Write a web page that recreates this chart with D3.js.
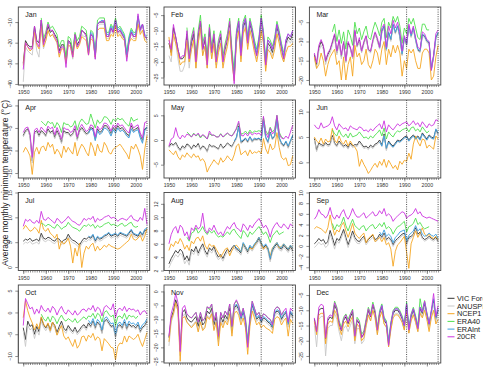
<!DOCTYPE html>
<html><head><meta charset="utf-8">
<script src="https://cdn.jsdelivr.net/npm/d3@7/dist/d3.min.js"></script>
<style>body{margin:0;background:#fff}svg{display:block}text{font-family:'Liberation Sans',Arial,sans-serif}</style>
</head><body><svg id="c" width="487" height="368"></svg>
<script>
const months = ["Jan","Feb","Mar","Apr","May","Jun","Jul","Aug","Sep","Oct","Nov","Dec"];
const seriesNames = ["VIC Forcing","ANUSPLIN","NCEP1","ERA40","ERAInt","20CR"];
const seriesStart = [1950,1950,1950,1958,1979,1950];
const xTicks = [1950,1960,1970,1980,1990,2000];
const refYears = [1991,2005];
const yTicks = [[-40,-30,-20,-10],[-25,-20,-15,-10,-5],[-20,-15,-10,-5],[-15,-10,-5,0],[-5,0,5],[0,5,10],[0,5,10,15],[2,4,6,8,10,12],[-4,-2,0,2,4,6,8,10],[-10,-5,0,5],[-25,-20,-15,-10,-5,0],[-25,-20,-15,-10,-5]];
const yDomains = [[-40.5,-2.7],[-27.4,-2.4],[-21.3,-1.05],[-16.1,1.2],[-7.7,8.1],[-3.1,12.3],[-0.7,15],[2,13.7],[-4.6,10],[-11.6,6.3],[-25.6,2.3],[-27.3,-1.7]];

const vic = [
[-30,-19,-21,-22,-22,-12,-19,-20,-9,-20,-17,-12,-15,-14,-16,-18,-24,-21,-21,-29,-19,-20,-26,-16,-21,-19,-14,-15,-16,-25,-16,-17,-27,-11,-10,-10,-10,-17,-17,-13,-15,-9,-15,-14,-16,-18,-27,-19,-15,-17,-17,-8,-14,-11,-17,-18],
[-14,-17,-9,-12,-16,-19,-19,-18,-11,-19,-14,-11,-20,-12,-7,-16,-13,-20,-10,-17,-12,-20,-15,-12,-20,-16,-13,-8,-18,-25,-12,-8,-18,-9,-7,-14,-8,-11,-15,-18,-14,-7,-12,-21,-14,-15,-17,-14,-9,-12,-16,-19,-14,-12,-13,-11],
[-13.4,-16,-11.7,-10,-11.3,-15.2,-13.4,-12.2,-10.4,-8.3,-13,-10,-13.9,-10.4,-15.2,-10.4,-11.7,-14.3,-7.4,-11.3,-9.6,-12.6,-10.4,-8.7,-12.2,-12.6,-10,-7.8,-9.6,-11.7,-7.4,-6.1,-12.2,-7.8,-9.6,-5.7,-7.8,-6.1,-8.7,-13.4,-9.1,-10.9,-6.1,-8.7,-6.6,-9.6,-12.2,-12.6,-8.3,-8.7,-10,-10.4,-17.3,-13.9,-9.1,-7.8],
[-6.7,-5.6,-5.2,-6.7,-12.3,-6,-5.6,-6.7,-5.6,-6,-6.7,-5.2,-6,-5.6,-7.1,-5.6,-6.7,-8.2,-5.6,-6,-6,-6.7,-6.3,-5.2,-7.5,-5.6,-4.9,-5.6,-6.3,-6,-4.9,-5.2,-7.5,-5.2,-6,-5.6,-4.5,-4.5,-5.2,-6.3,-4.9,-5.6,-4.5,-5.2,-4.9,-5.6,-6.3,-6.7,-4.5,-5.6,-5.2,-4.9,-6.7,-7.8,-5.2,-4.9],
[-1.4,-0.7,-1,-0.5,-1.4,-2,-1.2,-1.6,-0.8,-1.1,-1.8,-1,-1.4,-0.7,-1.9,-1.2,-1.5,-2.3,-0.9,-1.3,-1.2,-1.5,-1.8,-0.8,-1.6,-1.2,-0.6,-1,-1.3,-0.4,0.4,2.8,-0.5,-0.2,0.3,-0.4,0.6,-0.3,0.2,0.1,0.3,-0.2,4.2,0.5,-0.5,1.6,0.2,0.8,4.5,0.4,-0.8,-1.2,-0.4,-1.5,-0.3,0.8],
[4.7,2.4,3.8,3.5,3.3,3.9,3.4,3.6,5.3,3.8,3.3,4.2,3.6,3.2,3.5,2.9,3.8,3.2,3.5,3.4,4.2,3.6,3,3.2,2.8,3.4,3,3.6,3.8,4.4,3.4,5.6,2.6,4.2,3.6,3.2,3.8,4.4,4.2,4.6,5,5.2,4.4,5,5.4,4.8,5.2,4.6,5.8,5.2,4.6,5.4,5,4.8,6.4,5.6],
[5.2,5.6,5.4,5.8,5.2,5.4,5.6,5.2,6.8,5.8,5.6,6,5.8,5.4,5.2,5.8,5.6,5,5.4,5.6,6.6,5.8,5.4,5.2,4.8,4.4,5.2,5.8,5.6,6,5.8,6.4,5.2,6,5.6,5.8,6.2,6.4,6.8,6.2,6.4,6.6,6.2,6.8,6.6,6.4,6.2,6.8,7.4,6.6,6.4,6.2,7,6.4,7.4,7.4],
[3,3.8,4.4,5,4.6,5.2,4.8,3.6,4.2,3.4,5.2,4.8,5.6,4.6,5.4,6,5,4.4,5.4,5,5.6,4.6,4,4.4,3.8,4.6,5.2,4.8,5.4,5.8,5.2,5,4.6,6,5.4,4.8,5.6,5.2,5.8,6.2,6.8,6,5.4,5.8,5.2,3.6,5,5.6,6,5.4,5.2,5.8,5.4,5,5.6,5],
[0.4,0.8,1.4,0.9,1.2,0.4,0.8,2.9,1.6,0.1,1.4,1,2,3.1,1.6,0.2,1.4,2.8,1.6,1,0.8,1.4,1.8,0.6,1.2,1.6,2,1.2,1.4,2.2,1.6,2.4,1.2,1.6,1.2,0.2,1,1.4,1.8,2.2,2.4,0.4,1.6,1.8,2.2,3.4,2.2,2.6,1.6,1.2,1.4,1.8,1.4,1.2,1.6,0.9],
[-3.5,-6.2,-2,-3.2,-2.8,-5,-3.2,-4.4,-1.2,-2.8,-3.6,-2.6,-4,-2.2,-3,-4.6,-3.2,-2,-3.6,-4.2,-3,-3.8,-4.4,-3.4,-4.6,-4,-3.2,-2.8,-3.6,-2.4,-3.2,-2,-3.6,-2.2,-2.8,-4.6,-2,-1.6,-2.4,-3.2,-3,-5.6,-3.2,-2.8,-3.6,-2.2,-3.8,-2.6,-3.2,-3,-3.6,-2.8,-4.4,-3.4,-3,-2],
[-16.5,-9.5,-7,-3,-5.5,-21,-7.5,-6.5,-9.5,-10.5,-11,-10,-9,-12.5,-9,-12,-11,-7,-8,-6,-12,-9,-17,-9,-11,-8.5,-10,-6,-14,-6,-5,-6.5,-10,-7.5,-11,-19,-10.5,-5,-7.5,-10,-9,-11,-9.5,-10,-11,-11.5,-13,-8,-7,-7.5,-10,-8.5,-7.5,-12,-7.5,-9],
[-12.8,-17.2,-10,-9.4,-9.4,-19.4,-13.3,-12.2,-12.8,-8.3,-10,-14.4,-16.7,-13.3,-12.2,-14.4,-12.2,-10.6,-18.9,-13.3,-14.4,-18.9,-17.8,-13.9,-10,-12.2,-8.3,-11.1,-16.7,-11.1,-8.9,-13.3,-14.4,-21.1,-15,-11.1,-10,-10,-11.1,-12.8,-15.6,-8.3,-16.7,-12.2,-10,-12.8,-16.1,-9.4,-11.1,-7.8,-11.7,-15,-10.6,-6.7,-12.8,-10]
];
const anusplin = [
[-39,-22,-24,-25,-26,-15,-24,-27,-13,-23,-19,-14,-17,-16,-18,-20,-26,-22,-23,-30,-21,-22,-28,-18,-22,-20,-16,-17,-17,-26,-17,-18,-28,-12,-11,-11,-11,-18,-18,-14,-16,-10,-16,-15,-17,-19,-28,-19,-16,-18,-18,-9,-15,-12,-18,-19],
[-18,-20,-11,-14,-19,-23,-23,-21,-13,-22,-16,-13,-22,-14,-9,-18,-15,-22,-12,-19,-14,-21,-16,-13,-21,-17,-14,-9,-19,-26,-13,-9,-19,-10,-8,-15,-9,-12,-16,-19,-15,-8,-13,-22,-15,-16,-18,-15,-10,-13,-17,-20,-15,-13,-14,-12],
[-14.5,-17,-12.5,-11,-12,-16,-14,-13,-11,-9,-13.5,-10.5,-14.5,-11,-15.5,-11,-12,-14.5,-8,-11.5,-10,-13,-10.8,-9,-12.5,-13,-10.3,-8,-10,-12,-7.8,-6.5,-12.5,-8.2,-10,-6,-8.1,-6.4,-9,-13.7,-9.4,-11.2,-6.4,-9,-6.9,-9.9,-12.5,-12.9,-8.6,-9,-10.3,-10.7,-17.6,-14.2,-9.4,-8.1],
[-7,-6,-5.5,-7,-12.8,-6.3,-6,-7,-6,-6.3,-7,-5.6,-6.3,-6,-7.4,-6,-7,-8.5,-6,-6.3,-6.3,-7,-6.6,-5.5,-7.8,-6,-5.2,-6,-6.6,-6.3,-5.2,-5.5,-7.8,-5.5,-6.3,-6,-4.8,-4.8,-5.5,-6.6,-5.2,-5.9,-4.8,-5.5,-5.2,-5.9,-6.6,-7,-4.8,-5.9,-5.5,-5.2,-7,-8.1,-5.5,-5.2],
[-1.6,-1,-1.2,-0.8,-1.7,-2.3,-1.5,-1.9,-1.1,-1.3,-2,-1.3,-1.6,-1,-2.1,-1.4,-1.7,-2.5,-1.1,-1.5,-1.4,-1.7,-2,-1,-1.8,-1.4,-0.8,-1.2,-1.5,-0.6,0.2,2.6,-0.7,-0.4,0.1,-0.6,0.4,-0.5,0,-0.1,0.1,-0.4,4,0.3,-0.7,1.4,0,0.6,4.3,0.2,-1,-1.4,-0.6,-1.7,-0.5,0.6],
[4.4,2.1,3.5,3.2,3,3.6,3.1,3.3,5,3.5,3,3.9,3.3,2.9,3.2,2.6,3.5,2.9,3.2,3.1,3.9,3.3,2.7,2.9,2.5,3.1,2.7,3.3,3.5,4.1,3.1,5.3,2.3,3.9,3.3,2.9,3.5,4.1,3.9,4.3,4.7,4.9,4.1,4.7,5.1,4.5,4.9,4.3,5.5,4.9,4.3,5.1,4.7,4.5,6.1,5.3],
[4.6,5,4.8,5.2,4.6,4.8,5,4.6,6.2,5.3,5.1,5.5,5.3,4.9,4.7,5.3,5.1,4.5,4.9,5.1,6.1,5.3,4.9,4.7,4.3,3.9,4.7,5.3,5.1,5.5,5.4,6,4.8,5.6,5.2,5.4,5.8,6,6.4,5.8,6,6.2,5.8,6.4,6.2,6,5.8,6.4,7,6.2,6,5.8,6.6,6,7,7],
[2.4,3.2,3.8,4.4,4,4.6,4.2,3,3.6,2.8,4.8,4.4,5.2,4.2,5,5.6,4.6,4,5,4.6,5.2,4.2,3.6,4,3.4,4.2,4.8,4.4,5,5.4,4.9,4.7,4.3,5.7,5.1,4.5,5.3,4.9,5.5,5.9,6.5,5.7,5.1,5.5,4.9,3.3,4.7,5.3,5.7,5.1,4.9,5.5,5.1,4.7,5.3,4.7],
[-0.3,0.1,0.7,0.2,0.5,-0.3,0.1,2.2,0.9,-0.6,0.9,0.5,1.5,2.6,1.1,-0.3,0.9,2.3,1.1,0.5,0.4,1,1.4,0.2,0.8,1.2,1.6,0.8,1,1.8,1.3,2.1,0.9,1.3,0.9,-0.1,0.7,1.1,1.5,1.9,2.1,0.1,1.3,1.5,1.9,3.1,1.9,2.3,1.3,0.9,1.1,1.5,1.1,0.9,1.3,0.6],
[-4.2,-7.8,-3,-4,-3.6,-6,-4,-5.2,-2,-3.4,-4.2,-3.2,-4.6,-2.8,-3.6,-5.2,-3.8,-2.6,-4.2,-4.8,-3.5,-4.3,-4.9,-3.9,-5.1,-4.5,-3.7,-3.3,-4.1,-2.9,-3.5,-2.3,-3.9,-2.5,-3.1,-4.9,-2.3,-1.9,-2.7,-3.5,-3.3,-5.9,-3.5,-3.1,-3.9,-2.5,-4.1,-2.9,-3.5,-3.3,-3.9,-3.1,-4.7,-3.7,-3.3,-2.3],
[-19.5,-11,-8.5,-4.5,-7,-23,-9,-8,-11,-12,-12.5,-11.5,-10.5,-14,-10.5,-13.5,-12.5,-8.5,-9.5,-7.5,-13.5,-10.5,-18,-10,-12,-9.5,-11,-7,-15,-7,-5.8,-7.3,-10.8,-8.3,-11.8,-19.8,-11.3,-5.8,-8.3,-10.8,-9.8,-11.8,-10.3,-10.8,-11.8,-12.3,-13.8,-8.8,-7.8,-8.3,-10.8,-9.3,-8.3,-12.8,-8.3,-9.8],
[-15,-22,-13,-12,-12,-25,-16,-15,-15,-11,-13,-17,-20,-16,-15,-17,-15,-13,-21,-16,-16,-21,-20,-15.5,-11.5,-13.5,-9.5,-12.5,-18,-12.5,-10,-14.5,-15.5,-22,-16,-12,-11,-11,-12,-13.8,-16.5,-9.3,-17.5,-13.2,-11,-13.8,-17,-10.4,-12.1,-8.8,-12.7,-16,-11.6,-7.7,-13.8,-11]
];
const ncep1 = [
[-31,-20,-22,-24,-23,-15,-21,-23,-12,-22,-19,-14,-17,-16,-18,-20,-27,-23,-23,-30,-21,-22,-27,-19,-23,-21,-17,-18,-19,-26,-18,-19,-27,-14,-13,-13,-13,-19,-19,-16,-17,-12,-17,-16,-18,-19,-27,-20,-18,-19,-19,-11,-16,-14,-19,-20],
[-12,-18,-11,-14,-17,-21,-20,-20,-13,-20,-16,-13,-22,-14,-9,-18,-15,-22,-12,-19,-14,-22,-17,-14,-22,-18,-15,-10,-20,-26,-14,-10,-20,-11,-9,-16,-10,-13,-17,-20,-16,-10,-14,-23,-16,-17,-19,-16,-11,-14,-18,-20,-17,-15,-15,-14],
[-14,-17,-16,-13,-15,-19,-16,-14,-13,-12,-16,-15,-20,-14,-20,-16,-14,-19,-11,-14,-13,-16,-15,-12,-16,-17,-15,-12,-13,-16,-12,-10,-16,-12,-14,-11,-13,-11,-13,-19,-15,-17,-12,-13,-12,-15,-17,-17,-13,-12,-12,-13,-20,-19,-14,-11],
[-10.4,-9.3,-10.1,-11.2,-15.3,-10.4,-9.3,-10.8,-9.3,-9,-10.1,-8.2,-9.3,-8.6,-10.8,-9.7,-10.4,-11.6,-9,-10.4,-9.3,-10.1,-10.8,-8.2,-11.2,-9.7,-8.6,-9.3,-10.4,-11.2,-8.2,-9.3,-11.2,-8.6,-10.1,-10.4,-8.2,-9,-10.4,-10.8,-9.7,-9.3,-9,-8.6,-9.3,-10.1,-10.8,-11.9,-9,-9.7,-8.6,-9.7,-11.2,-14.2,-9.7,-6.7],
[-2,-2.5,-3,-2.2,-3.4,-4,-3,-3.5,-2.6,-3.2,-3.6,-2.8,-3.5,-3.2,-4.2,-3.8,-4.5,-6.5,-5.5,-4.8,-4,-4.6,-5,-3.6,-4.5,-4,-3.2,-3.8,-4.2,-3,-1.2,-0.8,-3,-2.6,-2.2,-3.2,-2,-2.8,-2.4,-2.6,-2.2,-2.8,0.3,-1.8,-2.8,-0.8,-2,-1.5,1.5,-1.5,-3.5,-4,-3.6,-5.2,-5,-3.2],
[5,4.2,3.8,4.8,3.6,4.6,4,4.2,6.7,4.4,3.8,5.2,4,3.6,4.4,3.2,4.2,3.4,3,2.2,-0.8,0.6,-0.4,-1.2,-2.2,-1.6,-0.8,-0.2,-1,0.2,-0.6,0.6,-1,0.4,-0.4,-1.2,-0.6,-1.5,0.2,-0.4,0.4,0.2,1.8,0.6,3.6,5.2,4,3.2,4.6,4.4,2.8,3.4,3,2.6,5.2,4.6],
[7.6,8.4,7.8,7.2,7.4,8,7.6,6.8,9.4,7.6,7.2,7.8,6.8,6.4,5.8,6.6,3.6,5.2,4.6,5,5.8,4.2,0.8,3.8,2.2,4.8,-0.1,2.8,4.2,3.6,4.4,4.8,3.2,4.2,3.4,3.8,4.4,4,4.6,4.2,4,3.8,3.6,3.8,4.2,4.6,5,5.4,6.6,5.6,5.4,5.8,6.4,5.2,6.2,7.8],
[5,6,5.6,6.4,6,6.8,6.2,5.2,5.8,5,6.4,6,6.8,7,6.4,7.2,5.8,5.2,6,5.6,5.8,5.2,4.6,4,4.6,5.2,5.4,4.2,5,5.6,5.8,5.4,4.8,6,5.6,5,5.4,5.2,5.8,6.4,7,6.2,5.2,5.6,5.4,4.2,5.4,5.8,6.2,5.4,5.6,6,5.6,5.2,5.8,5.4],
[3.2,3.6,3.4,3.2,2.8,2.4,3.4,5.8,3.6,2,3,2.6,3.8,4.4,2.8,1.6,2.8,4.2,2.4,1.8,1.4,2,2.4,0.6,1.4,1.8,2.2,0.8,1.2,1.6,0.8,1.6,0.2,0.6,-0.6,-3.8,-1,0.2,0.6,1.2,1.8,-1.2,-4.2,0.4,1.6,2.8,1.6,2.4,3.4,2.2,1.8,2.2,1.6,1.4,1.8,1.2],
[-1.2,2.7,0.4,-1.2,-2.4,-4,-2.6,-3.8,-1,-2.6,-3.4,-2.4,-4.2,-2.2,-3.2,-5.2,-4,-3,-5.4,-6.2,-5.6,-6.8,-7.8,-6.2,-8.2,-7.4,-5.6,-5.4,-6.6,-5.2,-5.8,-4.8,-6.4,-5.6,-6,-8.8,-6,-6.6,-7.2,-8,-8.2,-10.9,-7.8,-7,-7.2,-5.4,-6.8,-5.4,-5.8,-6.2,-5.8,-5,-6.6,-7.8,-6.2,-4.6],
[-18,-10,-8,-4,-7,-25,-9.5,-9,-11,-12,-13,-12,-11,-14.5,-11,-14,-13,-9,-10,-8,-14,-11,-19.5,-11,-13,-10.5,-12,-8,-16,-8,-7,-8.5,-12,-9.5,-13,-22.5,-12.5,-7,-9.5,-12,-11,-13,-12,-13,-13.5,-14,-15,-10,-9,-9.5,-12,-10.5,-9.5,-16,-10,-11.5],
[-13.5,-18,-11.5,-11,-11,-21,-14.5,-13.5,-14,-10,-11.5,-15.5,-18,-14.5,-13.5,-15.5,-13.5,-12,-20,-14.5,-15.5,-20,-19,-15,-11.5,-13.5,-10,-12.5,-18,-12.5,-10.5,-14.5,-15.5,-22,-16.5,-12.5,-11.5,-11.5,-12.5,-14,-16.5,-10,-17.5,-13.5,-11.5,-14,-17,-11,-12.5,-10,-13,-17,-12.5,-10,-14.5,-13]
];
const era40 = [
[-8,-18,-15,-10,-13,-12,-14,-16,-22,-19,-19,-27,-17,-18,-24,-15,-19,-17,-12,-13,-14,-23,-14,-15,-25,-9,-8,-8,-8,-15,-15,-11,-13,-8,-13,-12,-14,-16,-25,-17,-13,-15,-15,-7],
[-9,-18,-12,-9,-18,-10,-5,-14,-11,-18,-8,-15,-10,-18,-13,-10,-18,-14,-11,-6,-16,-23,-10,-6,-16,-7,-5,-12,-6,-9,-13,-16,-12,-5,-10,-19,-12,-13,-15,-12,-7,-10,-14,-17],
[-7.5,-5.5,-10,-7,-10.5,-7.5,-12,-7,-8.5,-11,-5,-8,-6.5,-9.5,-7.5,-6,-9,-9.5,-7,-5,-6.5,-8.5,-5,-4,-9,-5,-6.5,-3.5,-5,-3.5,-6,-10.5,-6.5,-8,-4,-5.5,-4,-6.5,-9,-9.5,-5.5,-5.5,-7,-7],
[-3.5,-4,-4.5,-3.5,-4,-3.8,-5,-3.8,-4.5,-6,-3.8,-4.2,-4.2,-4.8,-4.5,-3.4,-5.5,-3.8,-3,-3.6,-4.2,-4,-1.9,-3.5,-5,-3.2,-4,-3.5,-2.5,-2.6,-3.2,-4.2,-3,-3.5,-2.8,-3.2,-2.9,-3.6,-4.2,-4.6,-2.6,-3.5,-3.2,-3],
[1.6,1.2,0.6,1.4,0.8,1.2,0.4,1,0.6,0.2,1.3,0.9,1,0.7,0.6,1.3,0.6,0.9,1.4,1,0.8,1.6,2.2,3.4,1.2,1.3,1.8,1.2,2,1.4,1.8,1.7,1.9,1.6,4.6,1.9,1.1,2.6,1.6,2.2,5,1.6,0.6,0.3],
[6.4,5.6,5.2,6.4,5.4,5,5.6,4.8,5.8,5,5.2,5.4,6,5.4,4.8,5,4.6,5.2,4.8,5.4,5.8,6.4,5.2,6.8,4.6,6,5.4,5,5.8,6.2,6,6.4,6.6,6.8,6,6.8,7,6.2,6.6,6,7,6.4,5.8,6.2],
[8.8,8.6,8.2,8.6,8.4,8,7.8,8.6,8.2,7.6,8,8.2,9,8.4,8,7.8,7.6,7.2,7.8,8.4,8.2,8.6,8.2,8.6,7.8,8.4,8,8.2,8.6,8.8,9,8.4,8.6,8.4,8.2,8.6,8.8,8.2,8.4,8.8,9,8.2,8,8.2],
[7,6.4,7.6,7.8,8.4,7.6,8,8.6,7.8,7.4,8,7.6,8,7.4,7,7.2,7,7.4,7.8,7.4,8,8.2,7.6,7.2,6.8,8,7.6,7,7.8,7.4,7.8,8.2,8.6,8,7.4,7.8,7.2,6.2,7.2,7.6,8,7.4,7.6,7.8],
[4.2,3,4,3.6,4.2,5.4,3.8,2.8,4,5,3.8,3.4,3,3.6,3.8,2.8,3.4,3.8,4,3.2,3.6,4.2,3.6,4.4,3.2,3.6,3.2,2.2,3,3.6,3.8,4.2,4.6,2.6,3.6,3.8,4.2,5.2,4,4.4,3.6,3.2,3.4,3.6],
[-0.4,-1.4,-2,-1,-2.2,-0.8,-1.4,-2.6,-1.4,-0.6,-1.6,-2,-1.4,-1.8,-2.2,-1.4,-2.4,-2,-1.4,-1,-1.6,-0.8,-1,-0.2,-1.4,-0.2,-0.6,-2.2,0,0.4,-0.4,-1,-0.6,-3,-1,-0.8,-1.4,-0.2,-1.6,-0.6,-1,-0.8,-1.4,-0.8],
[-8,-9,-9.5,-8.5,-7.5,-11,-7.5,-10.5,-9.5,-5.5,-6.5,-4.5,-10.5,-7.5,-15.5,-7.5,-9.5,-7,-8.5,-4.5,-12.5,-4.5,-3.5,-5,-8.5,-6,-9.5,-17.5,-9,-3.5,-6,-8.5,-7.5,-9.5,-8,-8.5,-9.5,-10,-11.5,-6.5,-5.5,-6,-8.5,-7],
[-11.8,-7,-9,-13.4,-15.7,-12.3,-11.2,-13,-11.2,-9.6,-17.9,-12.3,-13.4,-17.9,-16.8,-12.9,-9,-11.2,-7.3,-10.1,-15.7,-10.1,-7.9,-12.3,-13.4,-20.1,-14,-10.1,-9,-9,-10.1,-11.8,-14.6,-7.3,-15.7,-11.2,-9,-11.8,-15.1,-6.2,-10.1,-6.8,-10.7,-14]
];
const eraint = [
[-24,-15,-16,-26,-11,-10,-9,-10,-16,-16,-12,-14,-9,-14,-13,-15,-17,-26,-18,-14,-16,-16,-7,-13,-11,-16,-17],
[-24,-11,-7,-17,-8,-6,-13,-7,-10,-14,-17,-13,-6,-11,-20,-13,-14,-16,-13,-8,-11,-15,-18,-13,-11,-12,-10],
[-11.5,-7.2,-6,-12,-7.5,-9.4,-5.5,-7.6,-5.9,-8.5,-13.2,-8.9,-10.7,-5.9,-8.5,-6.4,-9.4,-12,-12.4,-8.1,-8.5,-9.8,-10.2,-17,-13.7,-8.9,-7.6],
[-6.2,-5.2,-5.5,-7.8,-5.6,-6.5,-6,-5,-5.2,-5.8,-6.8,-5.4,-6.2,-5,-5.8,-5.5,-6,-6.8,-7.2,-5.2,-6,-5.6,-5.4,-7.2,-8.4,-5.6,-4.8],
[-0.2,0.6,2.6,-0.3,0,0.4,-0.2,0.7,-0.1,0.4,0.2,0.4,0,3.8,0.6,-0.3,1.5,0.3,0.9,4.2,0.5,-0.5,-1,-0.2,-1.2,-0.1,1],
[4,3.2,5.2,2.8,4,3.4,3,3.6,4.2,4,4.4,4.8,5,4.2,4.8,5.2,4.6,5,4.4,5.6,5,4.4,5.2,4.8,4.6,6.6,5.8],
[6.2,6,6.6,5.4,6.2,5.8,6,6.4,6.6,7,6.4,6.6,6.8,6.4,7,6.8,6.6,6.4,7,7.6,6.8,6.6,6.4,7.2,6.6,7.6,7.8],
[5.8,5.4,5.2,4.8,6.2,5.6,5,5.8,5.4,6,6.4,7,6.2,5.6,6,5.4,3.8,5.2,5.8,6.2,5.6,5.4,6,5.6,5.2,5.8,5.4],
[2.6,2,3,1.8,2.2,1.8,0.6,1.6,2,2.6,2.8,3,1,2,2.4,2.8,3.8,2.8,3.2,2.2,1.8,2,2.4,2,1.8,2.2,1.4],
[-1.8,-2.6,-1.4,-3,-1.6,-2.2,-4,-1.4,-1,-1.8,-2.6,-2.4,-5,-2.6,-2.2,-3,-1.6,-3.2,-2,-2.6,-2.4,-3,-2.2,-3.8,-2.8,-2.4,-1.4],
[-5.5,-4.5,-6,-9.5,-7,-10.5,-18.5,-10,-4.5,-7,-9.5,-8.5,-10.5,-9,-9.5,-10.5,-11,-12.5,-7.5,-6.5,-7,-9.5,-8,-7,-11.5,-7,-8.5],
[-10.6,-8.4,-12.8,-13.9,-20.6,-14.5,-10.6,-9.5,-9.5,-10.6,-12.3,-15.1,-7.8,-16.2,-11.7,-9.5,-12.3,-15.6,-8.9,-10.6,-7.3,-11.2,-14.5,-10.1,-6.2,-12.3,-9.5]
];
const cr20 = [
[-33,-20,-22,-23,-23,-12,-20,-22,-9,-21,-16,-11,-14,-14,-17,-19,-25,-22,-22,-32,-19,-21,-27,-16,-22,-20,-14,-15,-17,-26,-16,-17,-28,-11,-10,-10,-9,-17,-17,-13,-15,-9,-15,-14,-16,-18,-29,-20,-15,-17,-17,-6,-14,-11,-17,-18],
[-13,-16,-8,-12,-16,-19,-18,-18,-10,-19,-13,-10,-20,-11,-7,-16,-12,-21,-9,-17,-11,-20,-14,-11,-20,-15,-12,-7,-18,-27,-11,-7,-18,-8,-6,-14,-7,-10,-15,-18,-13,-6,-11,-21,-13,-14,-16,-13,-8,-11,-15,-19,-13,-11,-12,-10],
[-13,-15.5,-11,-9.5,-11,-15,-13,-12,-10,-8,-12.5,-9.5,-13.5,-10,-15,-10,-11.5,-14,-7,-11,-9,-12.5,-10,-8.5,-12,-12.5,-9.5,-7.5,-9,-11.5,-6.5,-5.5,-11.5,-6,-8,-4.5,-6.5,-5,-7.5,-12.5,-8.5,-10.5,-5.5,-8,-6,-9,-11.5,-12,-7.5,-8,-9.5,-10,-17.5,-13.5,-8,-7],
[-6,-5,-4.8,-6.2,-11.5,-5.5,-5,-6,-4.8,-5.4,-6,-4.6,-5.2,-4.8,-6.5,-4.9,-6,-7.5,-4.9,-5.3,-5.3,-6,-5.7,-4.5,-7,-5,-4.2,-5,-5.8,-5.4,-4.3,-4.6,-7,-4.6,-5.4,-5,-3.9,-4,-4.6,-5.7,-4.3,-5,-3.9,-4.6,-4.3,-5,-5.7,-6.1,-3.9,-5,-4.6,-4.3,-6.1,-7.2,-3.8,-3.6],
[-1.2,0.2,0.5,2.5,0.8,0.2,1,0.5,1.2,1,0.6,1.2,0.9,1.4,0.6,1.1,0.8,0.2,1.8,1,1,0.6,0.6,1.2,0.6,1.1,1.4,1,0.8,1.4,2.4,3.8,1,0.8,1.4,0.8,1.6,1,1.4,1.2,1.4,0.9,4.8,1.4,0.5,2.4,1.2,1.8,5,1.3,0.4,0.2,0.8,0.3,1.6,3],
[7.4,6.8,6.6,7.8,6.8,7,7.2,7.6,9,7.2,6.4,7.6,7,6.6,6.8,6.2,7.2,6.8,6.6,6.4,7,6.8,6.2,6.4,6,6.6,6.2,6.8,7.2,7.6,6.6,8.2,6,7.4,6.8,6.4,7,7.6,7.2,7.6,7.8,8,7.2,7.6,8.2,7.4,7.8,7,8,7.4,6.8,7.6,7.2,7.4,8.4,8.2],
[8.2,9.6,9.2,9.6,9,8.8,9.4,8.8,11.2,9.6,9.4,10,9.6,9.2,8.8,9.8,9.4,8.8,9.2,9.6,10.2,9.6,9.2,9,8.6,8.4,9,9.8,9.4,9.8,9.6,10.2,9,9.8,9.4,9.6,10,10.2,10.4,9.8,10,9.8,9.2,9.6,9.8,9.6,9.4,10,10.4,9.6,9.4,9.2,10,9.4,11.8,8.6],
[6,7.4,8.2,8.6,7.6,8.8,8.4,7.2,7.8,6.6,8.4,8,8.8,8.2,8.6,10.6,8.2,7.6,8.4,8,8.8,8,7.4,7.8,7.2,8,8.6,8.2,8.8,9.2,8.4,8.2,7.8,9,8.6,8,8.8,8.4,9,9.4,9.8,9.2,8.4,8.8,8.2,7,8.2,8.8,9.2,8.6,8.4,9,8.6,8.2,9,8.6],
[5,5.6,6.8,6,5.8,5.2,5.8,7.2,5.6,5,5.8,5.2,6.2,6.8,5.6,5,5.8,7,6,5.4,5.4,5.8,6.2,5.2,5.6,6,6.4,5.6,5.8,6.6,6,7,5.6,6,5.6,4.6,5.2,5.6,6,6.4,6.2,5.2,5.6,5.8,6.2,7,6,6.4,5.6,5.4,5.2,5.4,5.2,5,4.8,4.6],
[-3,3.2,2,0.8,1.2,-0.4,0.8,-0.2,1.6,0.6,0.2,1,0,1.4,0.8,-0.6,0.6,1.4,0.2,-0.4,0.6,0,-0.6,0.4,-0.6,-0.2,0.6,0.8,0.2,1,0.6,1.6,0.2,1.2,0.8,-0.8,1.2,1.6,1,0.6,2,-1.2,0.6,1,0.4,1.4,0.2,1,0.6,0.8,0.2,0.6,-0.6,0.2,0.4,-0.4],
[-16,-8,-5,-0.8,-4,-21.5,-6,-5,-8,-9,-9.5,-8.5,-7.5,-11,-7.5,-10.5,-9.5,-5.5,-6,-4.5,-10.5,-7.5,-16,-7.5,-9.5,-7,-8.5,-4.5,-12.5,-4.5,-3,-5,-9,-6,-10,-20,-9.5,-3.5,-6,-8.5,-7.5,-10,-8,-8.5,-9.5,-10,-12,-6.5,-5.5,-6,-8.5,-7,-6,-11,-6,-7],
[-12.5,-17,-9,-8,-8.5,-19,-12.5,-11.5,-12,-7.5,-9.5,-14,-16.5,-13,-11.5,-14,-11.5,-10,-18.5,-13,-14,-19,-17.5,-13.5,-9.5,-12,-8,-10.5,-16.5,-11,-8.5,-13,-14,-21.5,-14.5,-10.5,-9.5,-9.5,-10.5,-12.5,-15,-8,-16.5,-11.5,-9.5,-12.5,-16,-9,-10.5,-7,-11,-14.5,-10,-4.5,-12,-8.5]
];
const seriesData = [vic, anusplin, ncep1, era40, eraint, cr20];
const seriesColors = ["#333333","#c8c8c8","#f5a623","#4fe04f","#3a9ee0","#cc33e0"];

const svg = d3.select("#c");
const colX = [18.3, 164, 309.4], panelW = 131.4;
const rowY = [7, 100, 192.5, 285], panelH = 78;
const xDomain = [1947.8, 2006.2];
const fontTick = 5.2;
const FF = "'Liberation Sans',Arial,sans-serif";

months.forEach((m, i) => {
  const c = i % 3, r = Math.floor(i / 3);
  const g = svg.append("g").attr("transform", `translate(${colX[c]},${rowY[r]})`);
  const x = d3.scaleLinear().domain(xDomain).range([0, panelW]);
  const y = d3.scaleLinear().domain(yDomains[i]).range([panelH, 0]);
  const cid = "clip" + i;
  g.append("clipPath").attr("id", cid).append("rect").attr("width", panelW).attr("height", panelH);
  const line = d3.line().x(d => x(d[0])).y(d => y(d[1]));
  const lg = g.append("g").attr("clip-path", `url(#${cid})`);
  seriesData.forEach((s, k) => {
    const pts = s[i].map((v, j) => [seriesStart[k] + j, v]);
    lg.append("path").attr("d", line(pts)).attr("fill", "none")
      .attr("stroke", seriesColors[k]).attr("stroke-width", 0.9).attr("stroke-linejoin", "round");
  });
  refYears.forEach(yr => {
    g.append("line").attr("x1", x(yr)).attr("x2", x(yr)).attr("y1", 0).attr("y2", panelH)
      .attr("stroke", "#222").attr("stroke-width", 0.8).attr("stroke-dasharray", "1,1.3");
  });
  g.append("rect").attr("width", panelW).attr("height", panelH).attr("fill", "none")
    .attr("stroke", "#444").attr("stroke-width", 0.9);
  g.append("text").attr("x", 7).attr("y", 10).attr("font-size", 7).attr("fill", "#222").text(m);
  const ax = g.append("g").attr("transform", `translate(0,${panelH})`);
  ax.call(d3.axisBottom(x).tickValues(d3.range(1950, 2006)).tickSize(2).tickFormat(""))
    .call(a => a.select(".domain").remove());
  const showLabels = r < 3;
  ax.append("g").call(d3.axisBottom(x).tickValues(xTicks).tickSize(3.5).tickPadding(2)
      .tickFormat(showLabels ? d3.format("d") : ""))
    .call(a => a.select(".domain").remove())
    .call(a => a.selectAll("text").attr("font-size", fontTick).attr("fill", "#333").attr("font-family", FF));
  ax.selectAll("line").attr("stroke", "#444").attr("stroke-width", 0.6);
  const ay = g.append("g");
  ay.call(d3.axisLeft(y).tickValues(yTicks[i]).tickSize(3).tickFormat(d3.format("d")))
    .call(a => a.select(".domain").remove());
  ay.selectAll("line").attr("stroke", "#444").attr("stroke-width", 0.6);
  ay.selectAll("text").attr("font-size", fontTick).attr("fill", "#333")
    .attr("font-family", FF)
    .attr("text-anchor", "middle").attr("dy", 0).attr("x", 0)
    .attr("transform", "translate(-6,0) rotate(-90)");
  const yt = yTicks[i];
  ay.append("line").attr("x1", 0).attr("x2", 0).attr("y1", y(yt[0])).attr("y2", y(yt[yt.length - 1]))
    .attr("stroke", "#444").attr("stroke-width", 0.6);
});

svg.append("text").attr("transform", "translate(8,183) rotate(-90)").attr("text-anchor", "middle")
  .attr("font-size", 8.5).attr("fill", "#222").text("Average monthly minimum temperature (°C)");

// legend, clipped at the figure's right margin as in the reference
svg.append("clipPath").attr("id", "legclip").append("rect")
  .attr("x", 440).attr("y", 285).attr("width", 42.5).attr("height", 60);
const leg = svg.append("g").attr("clip-path", "url(#legclip)")
  .append("g").attr("transform", "translate(447.5,298.3)");
seriesNames.forEach((n, k) => {
  const yy = k * 7.7;
  leg.append("line").attr("x1", 0).attr("x2", 7).attr("y1", yy).attr("y2", yy)
    .attr("stroke", seriesColors[k]).attr("stroke-width", 1);
  leg.append("text").attr("x", 9.5).attr("y", yy + 2.6).attr("font-size", 7.3).attr("fill", "#222").text(n);
});
</script></body></html>
